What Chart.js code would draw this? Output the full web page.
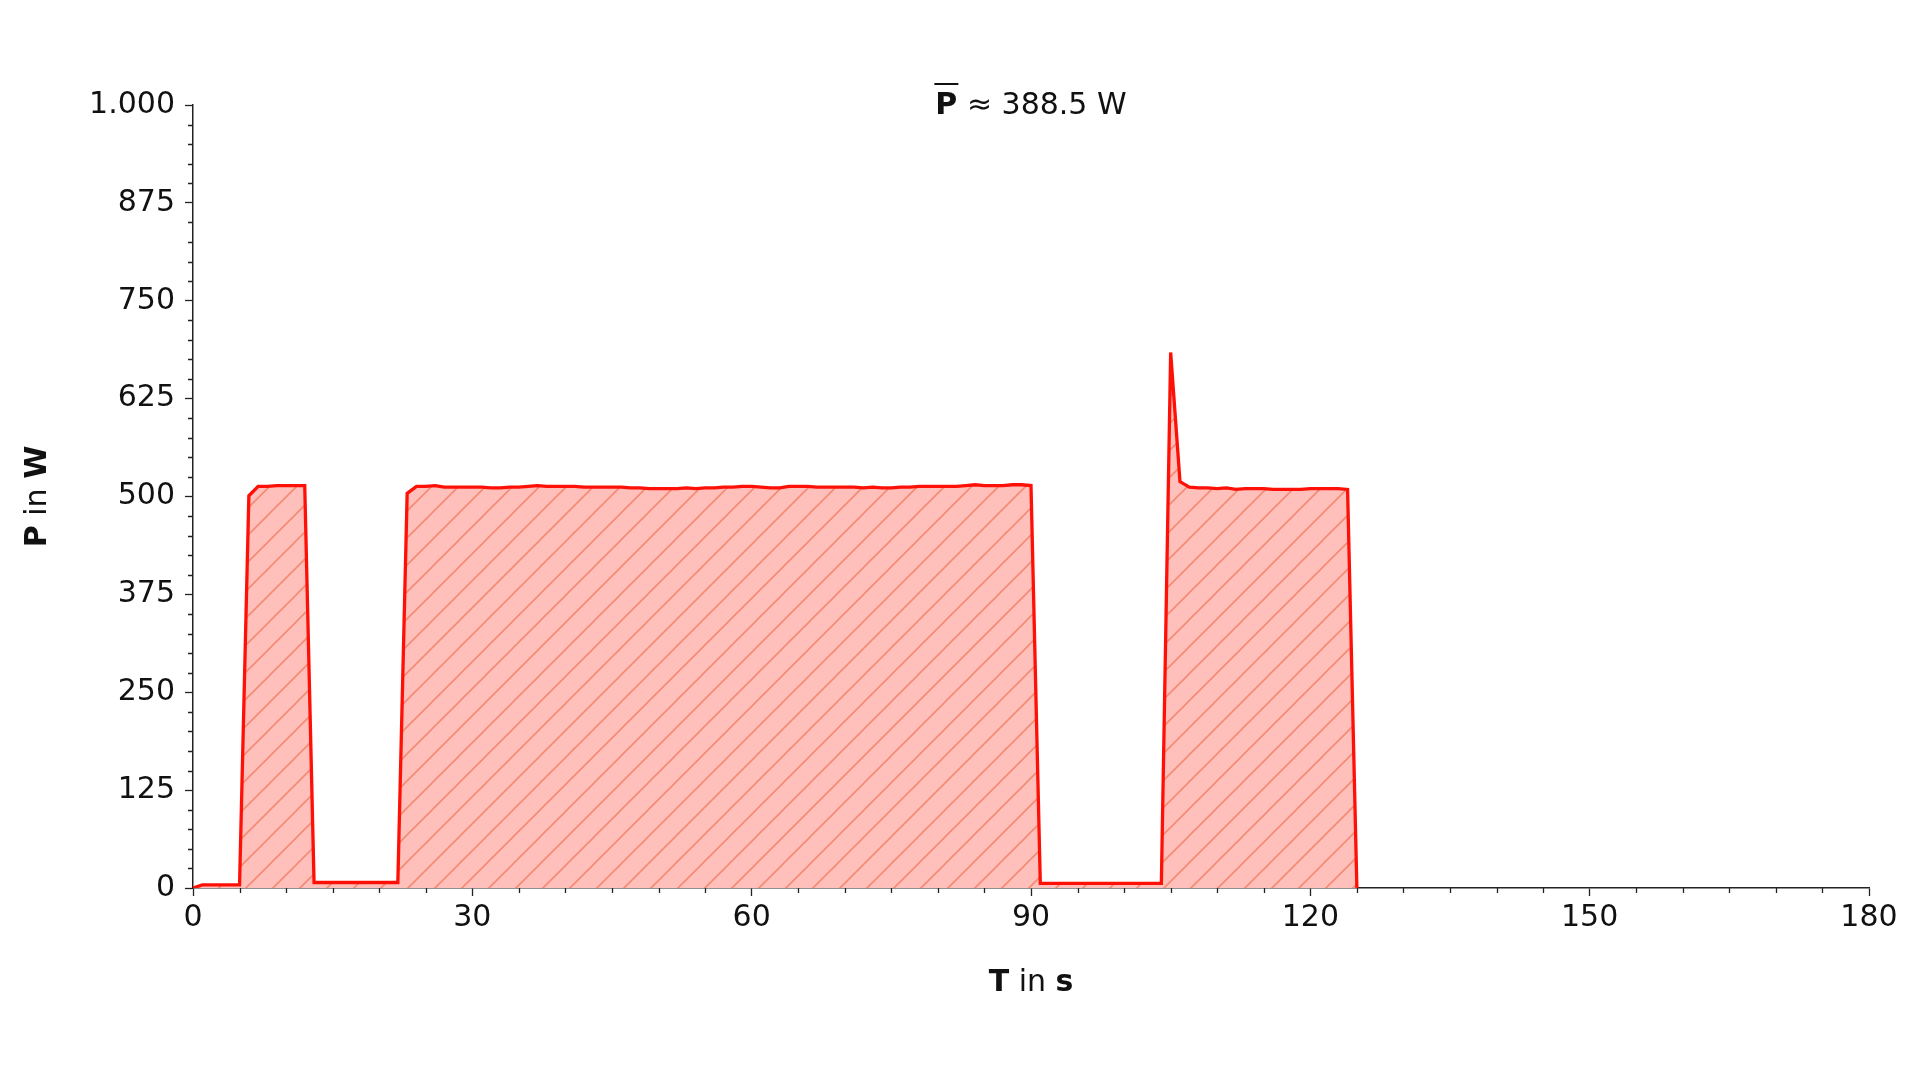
<!DOCTYPE html>
<html>
<head>
<meta charset="utf-8">
<script src="https://cdn.jsdelivr.net/npm/chart.js@4"></script>
<style>
html, body { margin: 0; padding: 0; background: #fff; }
#wrap { width: 1920px; height: 1080px; }
</style>
</head>
<body>
<div id="wrap"><canvas id="power-graph" width="1920" height="1080"></canvas></div>
<script>
// time in seconds, power in watts (1 sample per second)
const timeSec = [
    0, 1, 2, 3, 4, 5, 6, 7, 8, 9, 10, 11, 12, 13, 14, 15, 16, 17, 18, 19,
    20, 21, 22, 23, 24, 25, 26, 27, 28, 29, 30, 31, 32, 33, 34, 35, 36, 37, 38, 39,
    40, 41, 42, 43, 44, 45, 46, 47, 48, 49, 50, 51, 52, 53, 54, 55, 56, 57, 58, 59,
    60, 61, 62, 63, 64, 65, 66, 67, 68, 69, 70, 71, 72, 73, 74, 75, 76, 77, 78, 79,
    80, 81, 82, 83, 84, 85, 86, 87, 88, 89, 90, 91, 92, 93, 94, 95, 96, 97, 98, 99,
    100, 101, 102, 103, 104, 105, 106, 107, 108, 109, 110, 111, 112, 113, 114, 115, 116, 117, 118, 119,
    120, 121, 122, 123, 124, 125
];
const powerW = [
    0, 4, 4, 4, 4, 4, 501, 513, 513, 514, 514, 514, 514, 7, 7, 7, 7, 7, 7, 7,
    7, 7, 7, 504, 513, 513, 514, 512, 512, 512, 512, 512, 511, 511, 512, 512, 513, 514, 513, 513,
    513, 513, 512, 512, 512, 512, 512, 511, 511, 510, 510, 510, 510, 511, 510, 511, 511, 512, 512, 513,
    513, 512, 511, 511, 513, 513, 513, 512, 512, 512, 512, 512, 511, 512, 511, 511, 512, 512, 513, 513,
    513, 513, 513, 514, 515, 514, 514, 514, 515, 515, 514, 6, 6, 6, 6, 6, 6, 6, 6, 6,
    6, 6, 6, 6, 6, 684, 519, 512, 511, 511, 510, 511, 509, 510, 510, 510, 509, 509, 509, 509,
    510, 510, 510, 510, 509, 0
];
const xTicksMajor = [0, 30, 60, 90, 120, 150, 180];
const yTicksMajor = [0, 125, 250, 375, 500, 625, 750, 875, 1000];
const meanLabel = '388.5 W';

const FONT = '"DejaVu Sans", sans-serif';
const FS = 30;

function makeHatch() {
    const s = 27;
    const c = document.createElement('canvas');
    c.width = s;
    c.height = s;
    const g = c.getContext('2d');
    g.fillStyle = '#ffc0bb';
    g.fillRect(0, 0, s, s);
    g.strokeStyle = '#f58a74';
    g.lineWidth = 1.6;
    g.beginPath();
    g.moveTo(-2, s + 2); g.lineTo(s + 2, -2);
    g.moveTo(-4, 4); g.lineTo(4, -4);
    g.moveTo(s - 4, s + 4); g.lineTo(s + 4, s - 4);
    g.stroke();
    return g.createPattern(c, 'repeat');
}

function yLabel(v) {
    if (v === 1000) return '1.000';
    return String(v);
}

// draw a line of text made of parts with different fonts, centred on cx
function drawParts(ctx, parts, cx, baseY) {
    let total = 0;
    parts.forEach(p => {
        ctx.font = p.font;
        p.w = ctx.measureText(p.text).width;
        total += p.w;
    });
    let x = cx - total / 2;
    parts.forEach(p => {
        ctx.font = p.font;
        ctx.fillText(p.text, x, baseY);
        p.x = x;
        x += p.w;
    });
    return parts;
}

const textPlugin = {
    id: 'textPlugin',
    afterDraw(chart) {
        const ctx = chart.ctx;
        const area = chart.chartArea;
        const xs = chart.scales.x;
        const ys = chart.scales.y;
        ctx.save();

        // minor ticks
        ctx.strokeStyle = '#222';
        ctx.lineWidth = 1.3;
        ctx.beginPath();
        xs.ticks.forEach(t => {
            if (xTicksMajor.includes(t.value)) return;
            const px = Math.round(xs.getPixelForValue(t.value)) + 0.5;
            ctx.moveTo(px, area.bottom);
            ctx.lineTo(px, area.bottom + 5);
        });
        ys.ticks.forEach(t => {
            if (yTicksMajor.includes(t.value)) return;
            const py = Math.round(ys.getPixelForValue(t.value)) + 0.5;
            ctx.moveTo(area.left, py);
            ctx.lineTo(area.left - 5, py);
        });
        ctx.stroke();

        ctx.fillStyle = '#111';
        ctx.textBaseline = 'alphabetic';
        const bold = 'bold ' + FS + 'px ' + FONT;
        const reg = FS + 'px ' + FONT;
        const cx = (area.left + area.right) / 2;

        // title: mean power
        const tp = drawParts(ctx, [
            { text: 'P', font: bold },
            { text: ' \u2248 ' + meanLabel, font: reg }
        ], cx, 114);
        ctx.strokeStyle = '#111';
        ctx.lineWidth = 2;
        ctx.beginPath();
        ctx.moveTo(tp[0].x - 1, 84);
        ctx.lineTo(tp[0].x + tp[0].w + 1, 84);
        ctx.stroke();

        // x axis title
        drawParts(ctx, [
            { text: 'T', font: bold },
            { text: ' in ', font: reg },
            { text: 's', font: bold }
        ], cx, 991);

        // y axis title
        ctx.translate(46, (area.top + area.bottom) / 2);
        ctx.rotate(-Math.PI / 2);
        drawParts(ctx, [
            { text: 'P', font: bold },
            { text: ' in ', font: reg },
            { text: 'W', font: bold }
        ], 0, 0);
        ctx.restore();
    }
};

document.addEventListener('DOMContentLoaded', () => {
    const points = timeSec.map((t, i) => ({ x: t, y: powerW[i] }));

    new Chart('power-graph', {
        type: 'line',
        data: {
            datasets: [{
                label: 'P',
                data: points,
                borderColor: 'rgb(255, 16, 6)',
                borderWidth: 3.3,
                backgroundColor: makeHatch(),
                fill: 'origin',
                pointRadius: 0,
                tension: 0
            }]
        },
        options: {
            responsive: false,
            animation: false,
            layout: {
                padding: { left: 73, right: 51, top: 105, bottom: 132 }
            },
            plugins: {
                legend: { display: false },
                tooltip: { enabled: false }
            },
            scales: {
                x: {
                    type: 'linear',
                    min: 0,
                    max: 180,
                    afterFit: s => { s.height = 60; },
                    border: { display: true, color: '#222', width: 1.5 },
                    grid: {
                        drawOnChartArea: false,
                        tickLength: 8,
                        tickWidth: 1.3,
                        tickColor: c => xTicksMajor.includes(c.tick.value) ? '#222' : 'rgba(0,0,0,0)'
                    },
                    ticks: {
                        stepSize: 5,
                        maxTicksLimit: 100,
                        autoSkip: false,
                        maxRotation: 0,
                        padding: 4,
                        color: '#111',
                        font: { family: FONT, size: FS },
                        callback: v => xTicksMajor.includes(v) ? String(v) : ''
                    }
                },
                y: {
                    min: 0,
                    max: 1000,
                    afterFit: s => { s.width = 120; },
                    border: { display: true, color: '#222', width: 1.5 },
                    grid: {
                        drawOnChartArea: false,
                        tickLength: 8,
                        tickWidth: 1.3,
                        tickColor: c => yTicksMajor.includes(c.tick.value) ? '#222' : 'rgba(0,0,0,0)'
                    },
                    ticks: {
                        stepSize: 25,
                        maxTicksLimit: 100,
                        autoSkip: false,
                        padding: 10,
                        color: '#111',
                        font: { family: FONT, size: FS },
                        callback: v => yTicksMajor.includes(v) ? yLabel(v) : ''
                    }
                }
            }
        },
        plugins: [textPlugin]
    });
});
</script>
</body>
</html>
